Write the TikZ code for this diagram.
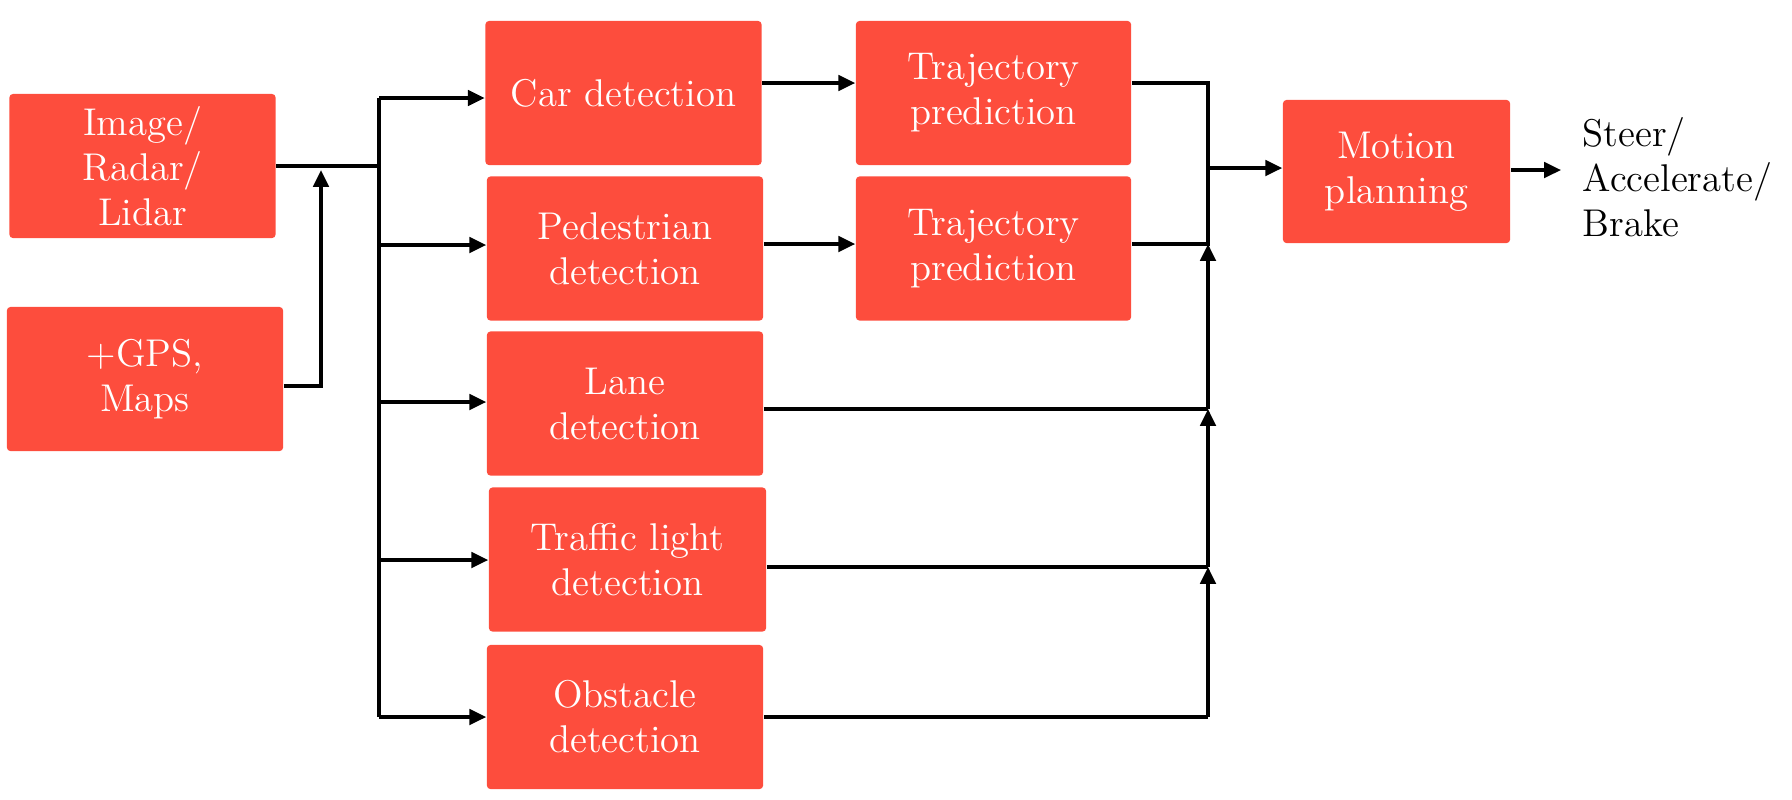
\documentclass[tikz,border=0pt]{standalone}
\usetikzlibrary{arrows.meta}
\definecolor{boxred}{RGB}{253,77,61}
\begin{document}
\begin{tikzpicture}[x=0.01cm,y=-0.01cm,
  box/.style={fill=boxred, text=white, rounded corners=1pt, align=center, inner sep=0pt,
              font=\fontsize{11}{12.8}\selectfont},
  det/.style={box, minimum width=2.76cm, minimum height=1.44cm},
  ln/.style={line width=0.95pt},
  arr/.style={ln, -{Triangle[length=4.8pt,width=4.4pt]}}]
\useasboundingbox (0,0) rectangle (1792,799);

\node[box, minimum width=2.66cm, minimum height=1.44cm] (img) at (142.5,166) {Image/\\Radar/\\Lidar};
\node[box, minimum width=2.76cm, minimum height=1.44cm] (gps) at (145,379) {+GPS,\\Maps};

\node[det] (car)  at (623.5,93)   {Car detection};
\node[det] (ped)  at (625,248.5)  {Pedestrian\\detection};
\node[det] (lane) at (625,403.5)  {Lane\\detection};
\node[det, minimum width=2.77cm] (traf) at (627.5,559.5) {Traffic light\\detection};
\node[det] (obs)  at (625,717)    {Obstacle\\detection};

\node[det, minimum width=2.75cm] (tr1) at (993.5,93)  {Trajectory\\prediction};
\node[det, minimum width=2.75cm] (tr2) at (993.5,248.5) {Trajectory\\prediction};

\node[box, minimum width=2.27cm, minimum height=1.43cm] (mot) at (1396.5,171.5) {Motion\\planning};
\node[anchor=west, align=left, inner sep=0pt, font=\fontsize{11}{12.8}\selectfont] (out) at (1582,177) {Steer/\\Accelerate/\\Brake};

% junction coordinates
\coordinate (Lin) at (379,166);
\coordinate (L1) at (379,98);
\coordinate (L2) at (379,245);
\coordinate (L3) at (379,402);
\coordinate (L4) at (379,560);
\coordinate (L5) at (379,717);
\coordinate (Gb) at (321,386);
\coordinate (G)  at (321,170);
\coordinate (R1) at (1208,83);
\coordinate (R2) at (1208,244);
\coordinate (R3) at (1208,409);
\coordinate (R4) at (1208,567);
\coordinate (R5) at (1208,717);
\coordinate (Rout) at (1208,168);
\coordinate (Oa) at (1561,170);

% left side
\draw[ln] (img.east |- Lin) -- (Lin);
\draw[arr] (gps.east |- Gb) -- (Gb) -- (G);
\draw[ln] (L1) -- (L5);
\draw[arr] (L1) -- (car.west |- L1);
\draw[arr] (L2) -- (ped.west |- L2);
\draw[arr] (L3) -- (lane.west |- L3);
\draw[arr] (L4) -- (traf.west |- L4);
\draw[arr] (L5) -- (obs.west |- L5);

% middle
\draw[arr] (car.east |- R1) -- (tr1.west |- R1);
\draw[arr] (ped.east |- R2) -- (tr2.west |- R2);

% right side
\draw[ln] (tr1.east |- R1) -- (R1) -- (R2) -- (tr2.east |- R2);
\draw[ln] (lane.east |- R3) -- (R3);
\draw[ln] (traf.east |- R4) -- (R4);
\draw[ln] (obs.east |- R5) -- (R5);
\draw[arr] (R5) -- (R4);
\draw[arr] (R4) -- (R3);
\draw[arr] (R3) -- (R2);
\draw[arr] (Rout) -- (mot.west |- Rout);
\draw[arr] (mot.east |- Oa) -- (Oa);
\end{tikzpicture}
\end{document}
